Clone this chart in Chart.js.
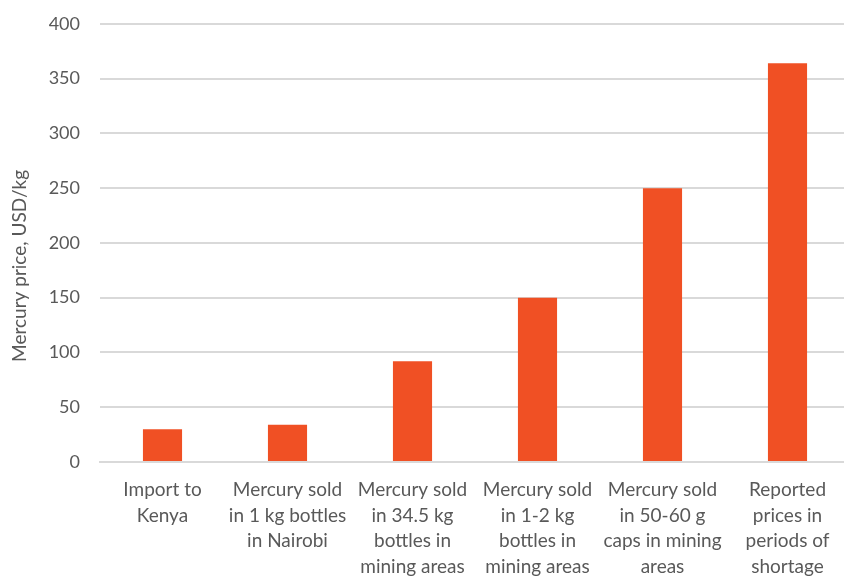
<!DOCTYPE html>
<html>
<head>
<meta charset="utf-8">
<script src="https://cdn.jsdelivr.net/npm/chart.js@4/dist/chart.umd.min.js"></script>
<style>
  html, body { margin: 0; padding: 0; background: #fff; overflow: hidden; }
  #wrap { width: 850px; height: 583px; margin-top: -7px; }
</style>
</head>
<body>
<div id="wrap"><canvas id="chart" width="850" height="583"></canvas></div>
<script>
// Mercury price by point of sale, USD/kg
const categories = [
  ['Import to', 'Kenya'],
  ['Mercury sold', 'in 1 kg bottles', 'in Nairobi'],
  ['Mercury sold', 'in 34.5 kg', 'bottles in', 'mining areas'],
  ['Mercury sold', 'in 1-2 kg', 'bottles in', 'mining areas'],
  ['Mercury sold', 'in 50-60 g', 'caps in mining', 'areas'],
  ['Reported', 'prices in', 'periods of', 'shortage']
];
const prices = [30, 34, 92, 150, 250, 364];
const yTicks = [0, 50, 100, 150, 200, 250, 300, 350, 400];
const yTitle = 'Mercury price, USD/kg';

const textColor = '#595959';
const gridColor = '#D9D9D9';
const fontFamily = 'Lato, "Open Sans", sans-serif';

// Vertical axis title, placed a little below the middle of the value axis
const yTitlePlugin = {
  id: 'yTitle',
  afterDraw(chart) {
    const { ctx, chartArea } = chart;
    const cy = (chartArea.top + chartArea.bottom) / 2 + 23;
    ctx.save();
    ctx.translate(20, cy);
    ctx.rotate(-Math.PI / 2);
    ctx.fillStyle = textColor;
    ctx.font = '19px ' + fontFamily;
    ctx.textAlign = 'center';
    ctx.textBaseline = 'middle';
    ctx.fillText(yTitle, 0, 0);
    ctx.restore();
  }
};

new Chart(document.getElementById('chart'), {
  type: 'bar',
  data: {
    labels: categories,
    datasets: [{
      data: prices,
      backgroundColor: '#F05024',
      borderWidth: 0,
      categoryPercentage: 1,
      barPercentage: 0.313
    }]
  },
  options: {
    responsive: false,
    animation: false,
    events: [],
    layout: { padding: { top: 17, right: 0, left: 0, bottom: 0 } },
    plugins: { legend: { display: false }, tooltip: { enabled: false } },
    scales: {
      x: {
        grid: { display: false, drawTicks: false },
        border: { display: true, color: gridColor, width: 2 },
        ticks: {
          color: textColor,
          font: { family: fontFamily, size: 19, lineHeight: 1.355 },
          padding: 15,
          maxRotation: 0,
          autoSkip: false
        },
        afterFit: (scale) => { scale.height = 114; }
      },
      y: {
        min: yTicks[0],
        max: yTicks[yTicks.length - 1],
        afterBuildTicks: (scale) => { scale.ticks = yTicks.map(v => ({ value: v })); },
        grid: { color: gridColor, lineWidth: 2, drawTicks: false },
        border: { display: false },
        ticks: {
          color: textColor,
          font: { family: fontFamily, size: 18 },
          padding: 20
        },
        afterFit: (scale) => { scale.width = 100; }
      }
    }
  },
  plugins: [yTitlePlugin]
});
</script>
</body>
</html>
